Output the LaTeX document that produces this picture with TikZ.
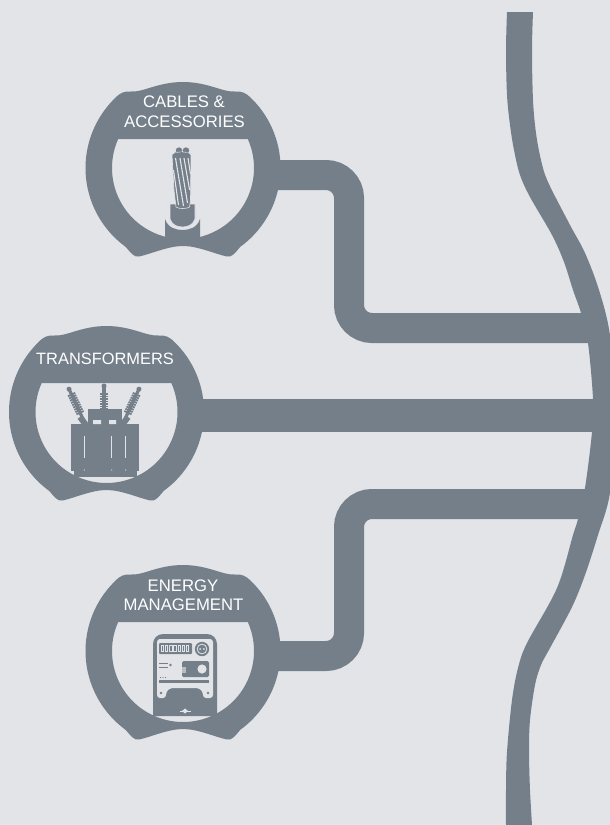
\documentclass[tikz,border=0pt]{standalone}
\usepackage{fontspec}
\setmainfont{Liberation Sans}
\definecolor{bg}{HTML}{E2E4E8}
\definecolor{ink}{HTML}{747F8A}
\newcommand{\badgeshape}[2]{%
  \fill[ink,even odd rule,shift={(#1,#2)}]
    (-68,-70) .. controls (-63,-75) and (-59,-77) .. (-52,-76.5)
    .. controls (-40,-75.5) and (-25,-86) .. (0,-86)
    .. controls (25,-86) and (40,-75.5) .. (52,-76.5)
    .. controls (59,-77) and (63,-75) .. (68,-70)
    arc[start angle=-45.8,end angle=54,radius=97.5]
    .. controls (52,85) and (49,89.5) .. (44,88.5)
    .. controls (32,86) and (15,78) .. (0,78)
    .. controls (-15,78) and (-32,86) .. (-44,88.5)
    .. controls (-49,89.5) and (-52,85) .. (-57.3,78.9)
    arc[start angle=126,end angle=225.8,radius=97.5] -- cycle
    (-64.8,-29) -- (64.8,-29)
    arc[start angle=-24.1,end angle=204.1,radius=71] -- cycle;}
\newcommand{\bushing}[5]{% x y angle length firstrib
  \begin{scope}[shift={(#1,#2)},rotate=#3]
    \draw[ink,line width=3.2pt] (0,0) -- (0,-#4);
    \fill[ink] (0,-#4) circle (2.5);
    \foreach \r in {#5} \draw[ink,line width=1.8pt] (-4,-\r) -- (4,-\r);
  \end{scope}}
\tikzset{
  link/.style={draw=ink,line width=30pt,rounded corners=23pt},
  label/.style={text=white,font=\fontsize{16.7}{18}\selectfont,inner sep=0pt,align=center},
  lite/.style={fill=bg,draw=none}
}
\begin{document}
\begin{tikzpicture}[x=1pt,y=1pt,yscale=-1]
\useasboundingbox (0,0) rectangle (610,825);
\fill[bg] (0,0) rectangle (610,825);
\begin{scope}
\clip (0,0) rectangle (610,825);
% river
\fill[ink] plot[smooth,tension=.55] coordinates {(507,12) (506,50) (507,95) (510,125) (514,150) (520,175) (530,197) (552,235) (564,262) (573,290) (581,313) (588,343) (593,399) (592,432) (585,488) (578,519) (573,535) (557,588) (527,643) (518,668) (512,700) (507,752) (506,790) (506,825)}
 -- plot[smooth,tension=.55] coordinates {(532,825) (530,790) (529,752) (530,720) (535,685) (541,665) (550,648) (572,607) (585,575) (598,535) (610,493) (618,415) (610,335) (599,290) (585,253) (570,225) (548,182) (541,160) (536,133) (533,100) (532,50) (533,12)} -- cycle;
% connectors
\coordinate (j1) at (590,328);
\coordinate (j2) at (600,415);
\coordinate (j3) at (590,504);
\coordinate (b1) at (270,175);
\coordinate (b2) at (195,415);
\coordinate (b3) at (270,656);
\draw[link] (b1) -- (349,175) -- (349,328) -- (j1);
\draw[ink,line width=33pt] (b2) -- (j2);
\draw[link] (b3) -- (349,656) -- (349,504) -- (j3);
\end{scope}
% badges
\badgeshape{183}{168}
\badgeshape{106.5}{412}
\badgeshape{183}{651}
% labels
\node[label] (t1) at (184,101.5) {CABLES \&};
\node[label] (t2) at (184.5,122) {ACCESSORIES};
\node[label,font=\fontsize{16.4}{18}\selectfont] (t3) at (105,359) {TRANSFORMERS};
\node[label] (t4) at (183,586) {ENERGY};
\node[label] (t5) at (183.5,605) {MANAGEMENT};
% cable icon
\fill[ink] (165,219) .. controls (168,228) and (176,230) .. (182.5,230) .. controls (189,230) and (197,228) .. (200,219) -- (200,242) -- (165,242) -- cycle;
\fill[ink,draw=bg,line width=.7pt] (170,204) -- (170,219) .. controls (172,225) and (177,227) .. (182.5,227) .. controls (188,227) and (193,225) .. (195,219) -- (195,204) -- cycle;
\fill[ink] (179,150.5) circle (3.2) (186,150.5) circle (3.2);
\fill[ink,draw=bg,line width=.6pt] (172,155) .. controls (172,151) and (191,151) .. (191,155) -- (190.5,200) -- (189.5,207) .. controls (187,209) and (178,209) .. (176,207) -- (174,190) -- cycle;
\foreach \a/\b/\c/\d in {173.5/170/178.5/205,175.5/158/183.5/206,180/158/187.5/203,184/158/189.6/190,188/158/190.5/174}{
  \draw[bg,line width=1.1pt] (\a,\b) -- (\c,\d);}
\fill[ink] (176,153.5) circle (1.5) (181.5,153) circle (1.5) (187,153.5) circle (1.5);
% transformer icon
\bushing{83}{419}{-25}{33}{7,9.5,12,14.5,17,19.5,22,24.5,27}
\bushing{104}{412}{0}{26}{3,5.5,8,10.5,13,15.5,18}
\bushing{125}{419}{25}{33}{7,9.5,12,14.5,17,19.5,22,24.5,27}
\draw[ink,line width=6pt] (80,417) -- (86,425);
\draw[ink,line width=6pt] (128,417) -- (122,425);
\fill[ink] (88,409) rectangle (122,425);
\fill[ink] (71,424) rectangle (139,471);
\fill[ink] (74,471) rectangle (137,477);
\fill[lite] (93,420) rectangle (101,424) (109,420) rectangle (116,424);
\foreach \x in {84.3,111.7,125.7}{
  \draw[bg,line width=.7pt] (\x,436) -- (\x,458);
  \fill[bg] (\x,470) circle (.6);}
% meter icon
\fill[ink] (153,716) -- (153,644) arc[start angle=180,end angle=270,radius=10] -- (207,634) arc[start angle=270,end angle=360,radius=10] -- (217,716) -- cycle;
\fill[lite,rounded corners=3pt] (157,698) -- (157,639) -- (213,639) -- (213,698) -- (203,698) -- (203,692) -- (199,688) -- (170,688) -- (166,692) -- (166,698) -- cycle;
\fill[ink,rounded corners=1pt] (159,643) rectangle (192,654);
\foreach \i in {0,...,6}{\draw[bg,line width=.45pt] (161+4.2*\i,645.5) rectangle (163.4+4.2*\i,651.5);}
\fill[ink] (202,649) circle (7.2);
\fill[bg] (202,649) circle (5.3);
\fill[ink] (202,649) circle (4.3);
\fill[bg] (200.2,649) circle (1) (203.8,649) circle (1);
\fill[ink,rounded corners=1.5pt] (182,661) rectangle (209,677);
\fill[bg] (202,669) circle (4.6);
\fill[bg!60!ink] (182,667) rectangle (185.5,673);
\draw[ink,line width=.5pt] (159,663) -- (168,663) (159,667.5) -- (168,667.5);
\fill[ink] (170.5,665) circle (1.3);
\fill[ink] (160.5,677.5) circle (.7) (163,677.5) circle (.7) (165.5,677.5) circle (.7);
\fill[ink] (159,680) rectangle (209,683.2);
\fill[ink] (161,693) circle (1.3) (208,693) circle (1.3);
\fill[bg] (185,708.5) -- (188,711) -- (185,713.5) -- (182,711) -- cycle;
\draw[bg,line width=.7pt] (179.5,711) -- (190.5,711);
\end{tikzpicture}
\end{document}
